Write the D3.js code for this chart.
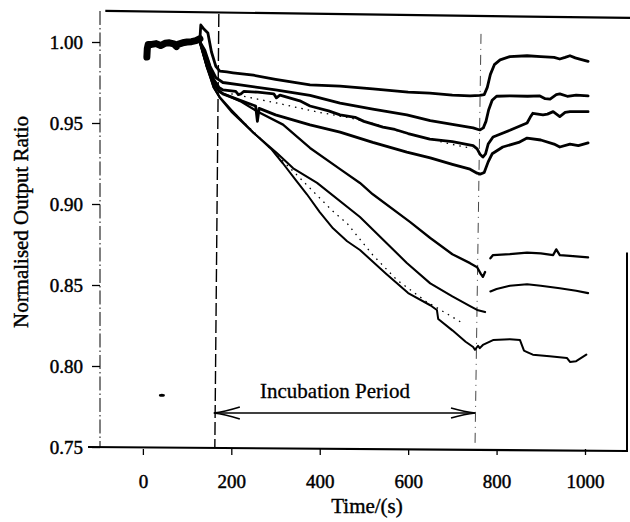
<!DOCTYPE html>
<html><head><meta charset="utf-8">
<script src="https://cdn.jsdelivr.net/npm/d3@7"></script>
<style>
html,body{margin:0;padding:0;background:#fff;}
svg text{font-family:"Liberation Serif","Times New Roman",serif;fill:#000;}
</style></head>
<body><svg id="chart" width="630" height="522"></svg>
<script>
// ---- data (time in s, normalised output ratio) ----
const xTicks = [0, 200, 400, 600, 800, 1000];
const yTicks = [0.75, 0.80, 0.85, 0.90, 0.95, 1.00];
const incubationStart = 165;
const incubationEnd = 758;
const arrowLevel = 0.771;
const labelLevel = 0.7805;
const baseline = [[9,0.9907],[10,0.996],[12,0.9985],[20,0.9985],[30,0.999],[40,0.9978],[50,0.9992],[60,0.9995],[70,0.9988],[76,0.9972],[79,0.9985],[90,0.9995],[100,1.0],[110,1.0002],[120,1.0008],[129,1.002]];
const seriesA = [[129,1.002],[131,1.0105],[138,1.008],[147,1.0056],[155,0.994],[165,0.985],[174,0.982],[190,0.9815],[204,0.981],[250,0.9795],[300,0.977],[378,0.9735],[446,0.9728],[520,0.971],[600,0.969],[649,0.9685],[700,0.9672],[740,0.9668],[762,0.967],[772,0.9675],[779,0.972],[786,0.98],[795,0.986],[808,0.989],[830,0.991],[869,0.9915],[900,0.991],[930,0.9905],[943,0.9895],[955,0.9905],[966,0.9915],[978,0.9902],[990,0.9893],[1007,0.988]];
const seriesB = [[129,1.0],[140,0.995],[152,0.985],[165,0.978],[181,0.975],[220,0.9735],[300,0.9705],[378,0.967],[446,0.9623],[520,0.9585],[597,0.955],[650,0.9515],[700,0.9492],[747,0.947],[762,0.9457],[770,0.947],[776,0.951],[782,0.958],[790,0.964],[800,0.9665],[830,0.9668],[870,0.9665],[898,0.9667],[910,0.965],[921,0.9648],[935,0.9675],[943,0.968],[960,0.9665],[980,0.9672],[1007,0.9667]];
const seriesC = [[129,1.0],[145,0.99],[160,0.977],[172,0.972],[181,0.9704],[210,0.9695],[216,0.9675],[222,0.968],[228,0.9695],[260,0.969],[296,0.968],[302,0.9655],[310,0.9672],[355,0.9637],[378,0.9605],[420,0.9575],[446,0.955],[480,0.9535],[500,0.951],[543,0.9475],[570,0.946],[600,0.9435],[649,0.94],[700,0.9385],[747,0.936],[756,0.934],[763,0.9305],[769,0.929],[775,0.931],[781,0.937],[792,0.9414],[830,0.9455],[869,0.95],[876,0.9535],[882,0.956],[905,0.955],[915,0.9555],[928,0.957],[943,0.954],[955,0.9565],[966,0.957],[1007,0.957]];
const seriesD = [[129,1.0],[145,0.985],[160,0.974],[170,0.9705],[181,0.968],[220,0.964],[255,0.9605],[259,0.951],[263,0.959],[300,0.955],[378,0.9488],[446,0.9444],[520,0.938],[597,0.932],[650,0.9285],[700,0.9245],[740,0.9215],[756,0.919],[764,0.9185],[772,0.9195],[781,0.926],[790,0.931],[814,0.9352],[850,0.938],[869,0.9407],[900,0.9395],[930,0.937],[943,0.9352],[966,0.937],[985,0.936],[1007,0.9377]];
const seriesEBefore = [[129,1.0],[145,0.985],[160,0.975],[174,0.969],[200,0.966],[220,0.9635],[260,0.957],[317,0.949],[378,0.9346],[446,0.9215],[491,0.913],[520,0.906],[604,0.889],[650,0.879],[700,0.869],[740,0.8635],[756,0.861],[764,0.857],[769,0.855],[774,0.858]];
const seriesEAfter = [[786,0.8665],[792,0.8685],[830,0.869],[869,0.87],[900,0.8695],[928,0.8685],[935,0.872],[943,0.8685],[966,0.868],[1007,0.867]];
const seriesFBefore = [[129,1.0],[145,0.985],[160,0.972],[174,0.966],[200,0.958],[250,0.944],[303,0.9315],[340,0.922],[394,0.913],[491,0.892],[597,0.8636],[650,0.851],[700,0.843],[740,0.837],[756,0.8346],[774,0.8333]];
const seriesFAfter = [[786,0.846],[800,0.8475],[830,0.8495],[869,0.8505],[900,0.8495],[943,0.848],[980,0.8465],[1007,0.845]];
const seriesG = [[129,1.0],[145,0.984],[160,0.972],[174,0.9655],[200,0.957],[250,0.944],[290,0.934],[317,0.925],[345,0.915],[371,0.906],[400,0.895],[430,0.885],[462,0.877],[491,0.8716],[550,0.857],[600,0.845],[650,0.8375],[665,0.8346],[668,0.829],[700,0.822],[730,0.815],[747,0.8117],[751,0.81],[758,0.8125],[762,0.811],[769,0.813],[792,0.816],[830,0.8165],[853,0.816],[862,0.8095],[869,0.8086],[882,0.807],[920,0.806],[959,0.805],[966,0.8025],[980,0.803],[995,0.8056],[1003,0.807]];
const dottedUpper = [[200,0.968],[300,0.9625],[400,0.9565],[468,0.9532],[520,0.9497],[611,0.9424],[643,0.9405],[700,0.9368],[745,0.9343]];
const dottedLower = [[200,0.958],[260,0.942],[348,0.918],[428,0.896],[462,0.888],[520,0.8685],[575,0.853],[640,0.84],[720,0.827]];
const speck = [[43,0.782]];

// ---- scales ----
const x = d3.scaleLinear().domain([-97, 1095]).range([100, 627]);
const y = d3.scaleLinear().domain([0.75, 1.0]).range([447, 42]);
const yTop = 1.0173;

const svg = d3.select("#chart");
const line = d3.line().x(d => x(d[0])).y(d => y(d[1])).curve(d3.curveLinear);

// frame
svg.append("line").attr("x1", x(-85)).attr("x2", 630).attr("y1", y(yTop)-3).attr("y2", y(yTop)+4)
  .attr("stroke", "#000").attr("stroke-width", 2.2);
svg.append("line").attr("x1", x.range()[0]).attr("x2", x.range()[0]).attr("y1", y(yTop)-3).attr("y2", y(0.75))
  .attr("stroke", "#000").attr("stroke-width", 1).attr("stroke-dasharray", "14,3,1.5,3");
svg.append("line").attr("x1", x.range()[1]).attr("x2", x.range()[1]).attr("y1", y(0.87)).attr("y2", y(0.75)+5)
  .attr("stroke", "#000").attr("stroke-width", 2);
svg.append("line").attr("x1", 88).attr("x2", x.range()[1]).attr("y1", y(0.75)).attr("y2", y(0.75)+4)
  .attr("stroke", "#000").attr("stroke-width", 2.2);

// axes
const gx = svg.append("g").attr("transform", `translate(0,${y(0.75)+2})`)
  .call(d3.axisBottom(x).tickValues(xTicks).tickSize(6).tickPadding(20).tickFormat(d3.format("d")));
gx.select(".domain").remove();
gx.selectAll("text").attr("font-size", 19).style("stroke", "#000").style("stroke-width", 0.45);
const gy = svg.append("g").attr("transform", `translate(${x.range()[0]},0)`)
  .call(d3.axisLeft(y).tickValues(yTicks).tickSize(8).tickPadding(9).tickFormat(d3.format(".2f")));
gy.select(".domain").remove();
gy.selectAll("text").attr("font-size", 19).style("stroke", "#000").style("stroke-width", 0.45);
svg.selectAll(".tick line").attr("stroke-width", 1.3);

// incubation markers
svg.append("line").attr("x1", x(incubationStart)+3).attr("x2", x(incubationStart)-1)
  .attr("y1", y(yTop)).attr("y2", y(0.75))
  .attr("stroke", "#000").attr("stroke-width", 1.4).attr("stroke-dasharray", "13,4");
svg.append("line").attr("x1", x(incubationEnd)+3).attr("x2", x(incubationEnd)-3)
  .attr("y1", y(1.005)).attr("y2", y(0.75))
  .attr("stroke", "#000").attr("stroke-width", 0.9).attr("stroke-dasharray", "10,5,1,5").attr("opacity", 0.8);

// curves
const solid = [baseline, seriesA, seriesB, seriesC, seriesD, seriesEBefore, seriesEAfter, seriesFBefore, seriesFAfter, seriesG];
const widths = [7, 2.8, 2.8, 2.8, 2.8, 2.3, 2.3, 2.1, 2.1, 2.0];
svg.append("g").selectAll("path").data(solid).join("path")
  .attr("d", line).attr("fill", "none").attr("stroke", "#000")
  .attr("stroke-width", (d, i) => widths[i]).attr("stroke-linejoin", "round").attr("stroke-linecap", "round");
svg.append("g").selectAll("path").data([dottedUpper, dottedLower]).join("path")
  .attr("d", line).attr("fill", "none").attr("stroke", "#000")
  .attr("stroke-width", 1.3).attr("stroke-dasharray", "1.5,5");
svg.append("g").selectAll("ellipse").data(speck).join("ellipse")
  .attr("cx", d => x(d[0])).attr("cy", d => y(d[1])).attr("rx", 3).attr("ry", 1.5).attr("fill", "#000");

// arrow
const ay = y(arrowLevel);
const ax1 = x(incubationStart) - 2, ax2 = x(incubationEnd) - 3;
svg.append("line").attr("x1", ax1).attr("x2", ax2).attr("y1", ay).attr("y2", ay).attr("stroke", "#000").attr("stroke-width", 1.6);
svg.append("path").attr("d", `M${ax1+26},${ay-6} Q${ax1+10},${ay-1} ${ax1},${ay} Q${ax1+10},${ay+1} ${ax1+26},${ay+6}`)
  .attr("fill", "none").attr("stroke", "#000").attr("stroke-width", 1.6);
svg.append("path").attr("d", `M${ax2-24},${ay-5} Q${ax2-10},${ay-1} ${ax2},${ay} Q${ax2-10},${ay+1} ${ax2-24},${ay+5}`)
  .attr("fill", "none").attr("stroke", "#000").attr("stroke-width", 1.6);
svg.append("text").attr("x", 335).attr("y", y(labelLevel))
  .attr("text-anchor", "middle").attr("font-size", 21).style("stroke", "#000").style("stroke-width", 0.3)
  .text("Incubation Period");

// axis titles
svg.append("text").attr("x", 367).attr("y", 513).attr("text-anchor", "middle").attr("font-size", 21)
  .style("stroke", "#000").style("stroke-width", 0.4).text("Time/(s)");
svg.append("text").attr("transform", "translate(28,222) rotate(-90)").attr("text-anchor", "middle")
  .attr("font-size", 20).attr("textLength", 212).attr("lengthAdjust", "spacingAndGlyphs")
  .style("stroke", "#000").style("stroke-width", 0.4).text("Normalised Output Ratio");
</script></body></html>
